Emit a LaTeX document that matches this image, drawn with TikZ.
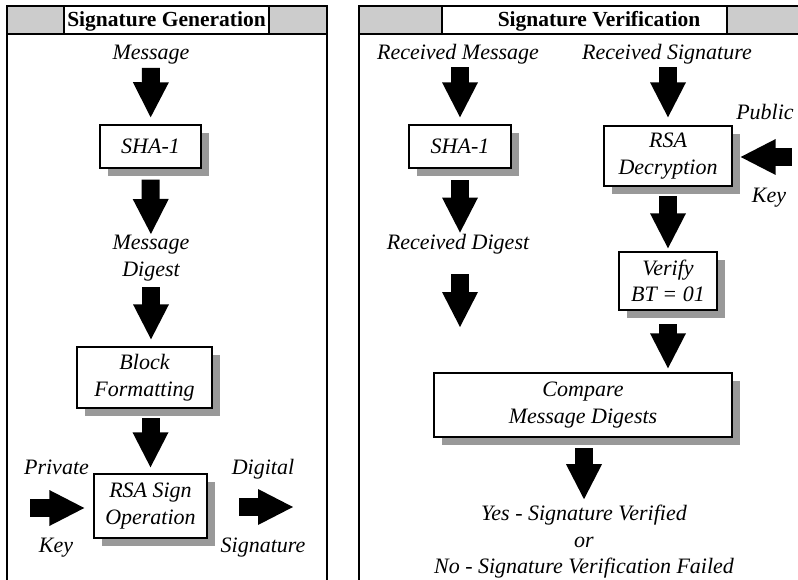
\documentclass[tikz,border=0pt]{standalone}
\usepackage{fontspec}
\setmainfont{Liberation Serif}
\usetikzlibrary{arrows.meta,shadows}
\definecolor{kopgrijs}{HTML}{CCCCCC}
\definecolor{schaduw}{HTML}{999999}
\tikzset{
    kader/.style={line width=1.5pt},
    boks/.style={
           rectangle,
           draw=black, line width=1.4pt,
           fill=white,
           drop shadow={shadow xshift=8pt, shadow yshift=-8pt, fill=schaduw, opacity=1},
           font=\fontsize{22}{26.5}\selectfont\itshape,
           align=center,
           inner sep=0pt},
    tekst/.style={
           inner sep=0pt,
           font=\fontsize{22}{26.5}\selectfont\itshape,
           align=center},
    kop/.style={
           inner sep=0pt,
           font=\fontsize{21.5}{24}\selectfont\bfseries},
    pil/.style={
           line width=18pt, line cap=rect,
           -{Triangle[length=35pt, width=36pt, line width=0pt]}}
}
\begin{document}
\begin{tikzpicture}[x=1pt, y=-1pt]
          \useasboundingbox (0,0) rectangle (798,580);
          \clip (0,0) rectangle (798,580);
          \fill[kopgrijs] (7,6) rectangle (327,34);
          \draw[kader, fill=white] (64,6) rectangle (269,34);
          \draw[kader] (7,600) -- (7,6) -- (327,6) -- (327,600);
          \draw[kader] (7,34) -- (327,34);
          \fill[kopgrijs] (359,6) rectangle (810,34);
          \draw[kader, fill=white] (442,6) rectangle (727,34);
          \draw[kader] (359,600) -- (359,6) -- (810,6);
          \draw[kader] (359,34) -- (810,34);
          \node[kop, anchor=base] (kopgen) at (166.5,27) {Signature Generation};
          \node[kop, anchor=base] (kopver) at (599,27) {Signature Verification};
          \node[tekst, anchor=base] (msg) at (151,60) {Message};
          \node[boks, minimum width=101pt, minimum height=43pt] (sha) at (150.5,146.5) {SHA-1};
          \node[tekst] (dig) at (151,258) {Message\\Digest};
          \node[boks, minimum width=135pt, minimum height=61pt] (fmt) at (144.5,377.5) {Block\\Formatting};
          \node[boks, minimum width=113pt, minimum height=64pt] (sign) at (150.5,506) {RSA Sign\\Operation};
          \node[tekst, anchor=base] (priv) at (56.5,474) {Private};
          \node[tekst, anchor=base] (pkey) at (56,552) {Key};
          \node[tekst, anchor=base] (digi) at (263,474) {Digital};
          \node[tekst, anchor=base] (sgn) at (263,552) {Signature};
          \coordinate (keyin) at (30,508);
          \coordinate (sigout) at (293,507);
          \draw[pil, shorten <=12pt, shorten >=7pt] (msg) -- (sha);
          \draw[pil, shorten <=20pt, shorten >=1pt] (sha) -- (dig);
          \draw[pil, shorten <=15pt, shorten >=7pt] (dig.south) -- (dig.south |- fmt.north);
          \draw[pil, shorten <=18pt, shorten >=6pt] (sign.north |- fmt.south) -- (sign.north);
          \draw[pil, shorten <=9pt, shorten >=9pt] (keyin) -- (keyin -| sign.west);
          \draw[pil, shorten <=40pt] (sign.east |- sigout) -- (sigout);
          \node[tekst, anchor=base] (rmsg) at (458,60) {Received Message};
          \node[tekst, anchor=base] (rsig) at (667,60) {Received Signature};
          \node[boks, minimum width=102pt, minimum height=43pt] (rsha) at (460,146.5) {SHA-1};
          \node[boks, minimum width=128pt, minimum height=60pt] (dec) at (668,156) {RSA\\Decryption};
          \node[tekst, anchor=base] (pub) at (765,120) {Public};
          \node[tekst, anchor=base] (rkey) at (769,203) {Key};
          \coordinate (pubin) at (792,157);
          \node[tekst, anchor=base] (rdig) at (458,250) {Received Digest};
          \coordinate (rdigout) at (460,327);
          \node[boks, minimum width=98pt, minimum height=58pt] (bt) at (668,281) {Verify\\BT = 01};
          \node[boks, minimum width=298pt, minimum height=64pt] (cmp) at (583,405) {Compare\\Message Digests};
          \node[tekst] (res) at (584,542) {Yes - Signature Verified\\or\\No - Signature Verification Failed};
          \draw[pil, shorten <=11pt, shorten >=7pt] (rsha.north |- rmsg.south) -- (rsha.north);
          \draw[pil, shorten <=11pt, shorten >=8pt] (dec.north |- rsig.south) -- (dec.north);
          \draw[pil, shorten <=20pt, shorten >=2pt] (rsha.south) -- (rsha.south |- rdig.north);
          \draw[pil, shorten <=28pt] (rdigout |- rdig.south) -- (rdigout);
          \draw[pil, shorten <=18pt, shorten >=3pt] (dec.south) -- (bt.north);
          \draw[pil, shorten <=22pt, shorten >=4pt] (bt.south) -- (bt.south |- cmp.north);
          \draw[pil, shorten <=19pt, shorten >=6pt] (res.north |- cmp.south) -- (res.north);
          \draw[pil, shorten <=9pt, shorten >=8pt] (pubin) -- (pubin -| dec.east);
\end{tikzpicture}
\end{document}
